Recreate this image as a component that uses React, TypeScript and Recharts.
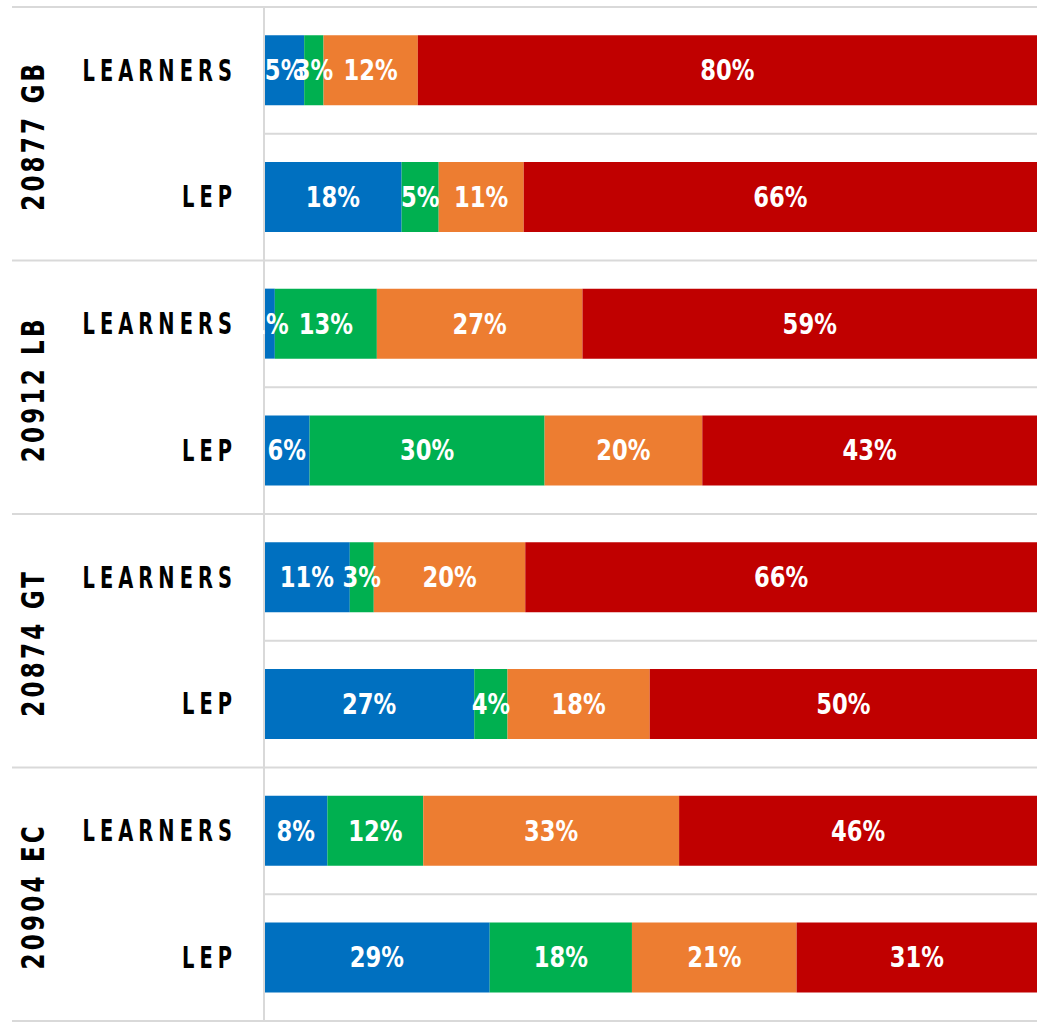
import React from "react"
import { BarChart, Bar, XAxis, YAxis, CartesianGrid } from "recharts"

// groups (left, rotated) and the two rows inside each group
const groups = ["20877 GB", "20912 LB", "20874 GT", "20904 EC"]
const rows = ["LEARNERS", "LEP"]

// share of each row (rows in order top to bottom)
const blue = [5.2, 17.8, 1.4, 5.9, 11.1, 27.2, 8.2, 29.2]
const green = [2.5, 4.8, 13.2, 30.4, 3.1, 4.3, 12.4, 18.4]
const orange = [12.2, 11.0, 26.6, 20.4, 19.6, 18.4, 33.1, 21.3]
const red = [80.1, 66.4, 58.8, 43.3, 66.2, 50.1, 46.3, 31.1]

const series = [
  { key: "s1", values: blue, color: "#0070C0" },
  { key: "s2", values: green, color: "#00B050" },
  { key: "s3", values: orange, color: "#ED7D31" },
  { key: "s4", values: red, color: "#C00000" },
]

const data = groups.flatMap((g, gi) =>
  rows.map((r, ri) => {
    const i = gi * rows.length + ri
    return {
      id: `${g}|${r}`,
      group: g,
      row: r,
      s1: blue[i],
      s2: green[i],
      s3: orange[i],
      s4: red[i],
    }
  })
)

const W = 1050
const H = 1024
const MARGIN = { top: 7, right: 13, bottom: 3, left: 0 }
const AXIS_W = 264
const BAND = (H - MARGIN.top - MARGIN.bottom) / data.length
const FONT = "'DejaVu Sans Condensed', 'DejaVu Sans', sans-serif"
const GRID = "#d9d9d9"

// the reference uses a narrow bold face, so squeeze DejaVu Condensed a bit more
const NarrowText = ({ x, y, sx, rotate, children, ...rest }: any) => (
  <text
    x={0}
    y={0}
    transform={`translate(${x} ${y})${rotate ? ` rotate(${rotate})` : ""} scale(${sx} 1)`}
    dominantBaseline="central"
    fontFamily={FONT}
    fontWeight={700}
    {...rest}
  >
    {children}
  </text>
)

const CategoryTick = (props: any) => {
  const { y, index, payload } = props
  const d = data[index] ?? data.find((e) => e.id === payload.value)
  const isFirst = index % rows.length === 0
  const isLast = index === data.length - 1
  return (
    <g>
      <NarrowText x={237} y={y} sx={0.72} textAnchor="end" fontSize={30} letterSpacing={7} fill="#000">
        {d.row}
      </NarrowText>
      {isFirst && (
        <>
          <line x1={12} x2={AXIS_W} y1={y - BAND / 2} y2={y - BAND / 2} stroke={GRID} strokeWidth={2} />
          <NarrowText
            x={33}
            y={y + BAND / 2 + 2}
            rotate={-90}
            sx={0.8}
            textAnchor="middle"
            fontSize={32}
            letterSpacing={4}
            fill="#000"
          >
            {d.group}
          </NarrowText>
        </>
      )}
      {isLast && (
        <line x1={12} x2={AXIS_W} y1={y + BAND / 2} y2={y + BAND / 2} stroke={GRID} strokeWidth={2} />
      )}
    </g>
  )
}

const makeLabel = (values: number[]) => (props: any) => {
  const { x, y, width, height, index } = props
  return (
    <NarrowText
      x={x + width / 2}
      y={y + height / 2}
      sx={0.9}
      textAnchor="middle"
      fontSize={28}
      fill="#fff"
    >
      {`${Math.round(values[index])}%`}
    </NarrowText>
  )
}

const App = () => {
  return (
    <div style={{ position: "absolute", left: 0, top: 0, background: "#fff" }}>
      <BarChart
        width={W}
        height={H}
        data={data}
        layout="vertical"
        stackOffset="expand"
        barCategoryGap="22.2%"
        margin={MARGIN}
      >
        <CartesianGrid
          vertical={false}
          stroke={GRID}
          strokeWidth={2}
          horizontalCoordinatesGenerator={({ offset }: any) =>
            Array.from({ length: data.length + 1 }, (_, i) => offset.top + (i * offset.height) / data.length)
          }
        />
        <XAxis type="number" hide domain={[0, 1]} />
        <YAxis
          type="category"
          dataKey="id"
          width={AXIS_W}
          tickLine={false}
          axisLine={{ stroke: GRID, strokeWidth: 2 }}
          tick={<CategoryTick />}
          interval={0}
        />
        {series.map((s) => (
          <Bar
            key={s.key}
            dataKey={s.key}
            stackId="a"
            fill={s.color}
            isAnimationActive={false}
            label={makeLabel(s.values)}
          />
        ))}
      </BarChart>
    </div>
  )
}

export default App
